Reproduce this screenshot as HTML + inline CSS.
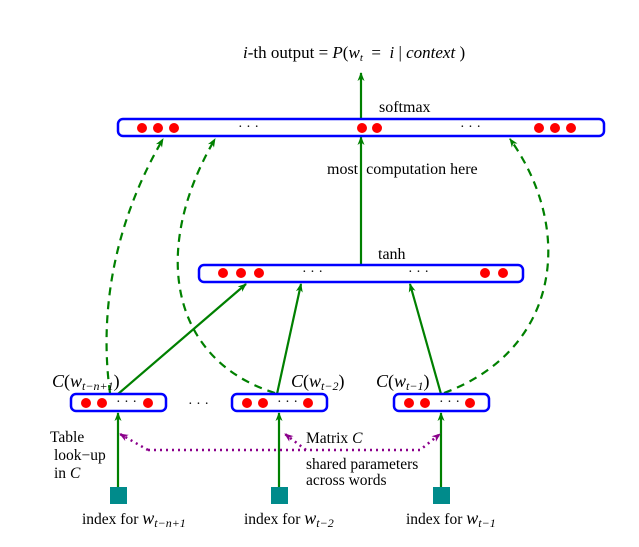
<!DOCTYPE html>
<html><head><meta charset="utf-8"><style>
body{margin:0;background:#fff}
svg{display:block}
text{font-family:"Liberation Serif",serif;fill:#000}
</style></head><body>
<svg width="639" height="547" viewBox="0 0 639 547" xmlns="http://www.w3.org/2000/svg">
<defs>
<marker id="ga" markerWidth="9" markerHeight="8" refX="8" refY="4" orient="auto" markerUnits="userSpaceOnUse"><path d="M0,0.5 L9,4 L0,7.5 L2.5,4 z" fill="#008000"/></marker>
<marker id="pa" markerWidth="9" markerHeight="8" refX="8" refY="4" orient="auto" markerUnits="userSpaceOnUse"><path d="M0,0.5 L9,4 L0,7.5 L2.5,4 z" fill="#8b008b"/></marker>
</defs>
<text x="243" y="58" font-size="17"><tspan font-style="italic">i</tspan>-th output = <tspan font-style="italic">P</tspan>(<tspan font-style="italic">w</tspan><tspan font-style="italic" font-size="11" dy="3">t</tspan><tspan dy="-3">&#160;&#160;=&#160;&#160;</tspan><tspan font-style="italic">i</tspan>&#160;|&#160;<tspan font-style="italic">context</tspan>&#160;)</text>
<text x="379" y="112" font-size="16">softmax</text>
<text x="327" y="174" font-size="16">most&#160;&#160;computation here</text>
<text x="378" y="259" font-size="16">tanh</text>
<g stroke="#008000" stroke-width="2.2" fill="none">
<line x1="361" y1="119" x2="361" y2="73" marker-end="url(#ga)"/>
<line x1="361" y1="265" x2="361" y2="137" marker-end="url(#ga)"/>
<line x1="118" y1="394" x2="246" y2="284" marker-end="url(#ga)"/>
<line x1="277" y1="394" x2="301" y2="284" marker-end="url(#ga)"/>
<line x1="441" y1="394" x2="410" y2="284" marker-end="url(#ga)"/>
<line x1="118" y1="487" x2="118" y2="413" marker-end="url(#ga)"/>
<line x1="279" y1="487" x2="279" y2="413" marker-end="url(#ga)"/>
<line x1="441" y1="487" x2="441" y2="413" marker-end="url(#ga)"/>
</g>
<g stroke="#008000" stroke-width="2.2" fill="none" stroke-dasharray="8,6">
<path d="M110,393 C100,320 110,230 163,139" marker-end="url(#ga)"/>
<path d="M275,393 C170,360 150,250 215,139" marker-end="url(#ga)"/>
<path d="M444,393 C560,350 575,230 510,139" marker-end="url(#ga)"/>
</g>
<g stroke="#0000ff" stroke-width="2.5" fill="#fff">
<rect x="118" y="119" width="486" height="17" rx="5"/>
<rect x="199" y="265" width="324" height="17" rx="5"/>
<rect x="71" y="394" width="95" height="17" rx="5"/>
<rect x="232" y="394" width="95" height="17" rx="5"/>
<rect x="394" y="394" width="95" height="17" rx="5"/>
</g>
<g fill="#ff0000">
<circle cx="142" cy="128" r="5"/><circle cx="158" cy="128" r="5"/><circle cx="174" cy="128" r="5"/>
<circle cx="362" cy="128" r="5"/><circle cx="377" cy="128" r="5"/>
<circle cx="539" cy="128" r="5"/><circle cx="555" cy="128" r="5"/><circle cx="571" cy="128" r="5"/>
<circle cx="223" cy="273" r="5"/><circle cx="241" cy="273" r="5"/><circle cx="259" cy="273" r="5"/>
<circle cx="485" cy="273" r="5"/><circle cx="503" cy="273" r="5"/>
<circle cx="86" cy="403" r="5"/><circle cx="102" cy="403" r="5"/><circle cx="148" cy="403" r="5"/>
<circle cx="247" cy="403" r="5"/><circle cx="263" cy="403" r="5"/><circle cx="308" cy="403" r="5"/>
<circle cx="409" cy="403" r="5"/><circle cx="425" cy="403" r="5"/><circle cx="470" cy="403" r="5"/>
</g>
<g font-size="14">
<text x="238" y="131">· · ·</text><text x="460" y="131">· · ·</text>
<text x="302" y="276">· · ·</text><text x="408" y="276">· · ·</text>
<text x="116" y="406">· · ·</text><text x="277" y="406">· · ·</text><text x="439" y="406">· · ·</text>
<text x="188" y="408">· · ·</text>
</g>
<g font-size="18">
<text x="52" y="387"><tspan font-style="italic">C</tspan>(<tspan font-style="italic">w</tspan><tspan font-style="italic" font-size="12" dy="3">t−n+1</tspan><tspan dy="-3">)</tspan></text>
<text x="291" y="387"><tspan font-style="italic">C</tspan>(<tspan font-style="italic">w</tspan><tspan font-style="italic" font-size="12" dy="3">t−2</tspan><tspan dy="-3">)</tspan></text>
<text x="376" y="387"><tspan font-style="italic">C</tspan>(<tspan font-style="italic">w</tspan><tspan font-style="italic" font-size="12" dy="3">t−1</tspan><tspan dy="-3">)</tspan></text>
</g>
<g stroke="#8b008b" stroke-width="2.5" fill="none" stroke-dasharray="2,4">
<path d="M148,450 L420,450 L440,434" marker-end="url(#pa)"/>
<path d="M148,450 L120,434" marker-end="url(#pa)"/>
<path d="M306,450 L285,434" marker-end="url(#pa)"/>
</g>
<g font-size="15.5">
<text x="50" y="442">Table</text>
<text x="54" y="460">look−up</text>
<text x="54" y="478">in <tspan font-style="italic">C</tspan></text>
<text x="306" y="443">Matrix <tspan font-style="italic">C</tspan></text>
<text x="306" y="469">shared parameters</text>
<text x="306" y="485">across words</text>
</g>
<g fill="#008b8b">
<rect x="110" y="487" width="17" height="17"/>
<rect x="271" y="487" width="17" height="17"/>
<rect x="433" y="487" width="17" height="17"/>
</g>
<g font-size="15.5">
<text x="82" y="524">index for <tspan font-style="italic" font-size="18">w</tspan><tspan font-style="italic" font-size="12" dy="3">t−n+1</tspan></text>
<text x="244" y="524">index for <tspan font-style="italic" font-size="18">w</tspan><tspan font-style="italic" font-size="12" dy="3">t−2</tspan></text>
<text x="406" y="524">index for <tspan font-style="italic" font-size="18">w</tspan><tspan font-style="italic" font-size="12" dy="3">t−1</tspan></text>
</g>
</svg>
</body></html>
